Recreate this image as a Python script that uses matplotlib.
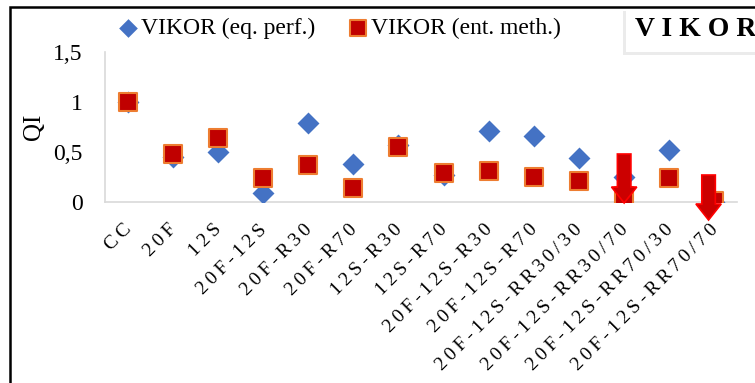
import numpy as np
import matplotlib.pyplot as plt
import matplotlib.transforms as mtransforms
from matplotlib.patches import Rectangle
from matplotlib.ticker import FuncFormatter

# Escenarios y valores QI de ambos métodos
escenarios = ['CC', '20F', '12S', '20F-12S', '20F-R30', '20F-R70', '12S-R30',
              '12S-R70', '20F-12S-R30', '20F-12S-R70', '20F-12S-RR30/30',
              '20F-12S-RR30/70', '20F-12S-RR70/30', '20F-12S-RR70/70']
qi_eq = [1.0, 0.45, 0.50, 0.09, 0.79, 0.38, 0.57, 0.27, 0.71, 0.66, 0.44, 0.25, 0.52, 0.0]
qi_ent = [1.0, 0.48, 0.64, 0.24, 0.37, 0.14, 0.55, 0.29, 0.31, 0.25, 0.21, 0.06, 0.24, 0.01]

# Flechas que marcan los mejores escenarios (x, y inicial, y final)
flechas_x = [11, 12.87]
flechas_y0 = [0.48, 0.27]
flechas_y1 = [-0.01, -0.18]

plt.rcParams['font.family'] = ['Liberation Serif', 'DejaVu Serif']
fs = 17

fig = plt.figure(figsize=(7.55, 3.83), dpi=100)
ax = fig.add_axes([105/755, 1-202/383, 632/755, 150/383])

x = np.arange(len(escenarios))
ax.scatter(x, qi_eq, marker='D', s=125, color='#4472C4', linewidths=0,
           label='VIKOR (eq. perf.)', zorder=3)
ax.scatter(x, qi_ent, marker='s', s=170, color='#C00000', edgecolors='#ED7D31',
           linewidths=1.5, label='VIKOR (ent. meth.)', zorder=4)

for xf, y0, y1 in zip(flechas_x, flechas_y0, flechas_y1):
    ax.arrow(xf, y0, 0, y1 - y0, width=0.3, head_width=0.56, head_length=0.16,
             length_includes_head=True, facecolor='#CC0000', edgecolor='#FF0000',
             linewidth=1.2, clip_on=False, zorder=6)

ax.set_xlim(-0.5, len(escenarios) - 0.5)
ax.set_ylim(0, 1.5)
ax.set_yticks([0, 0.5, 1, 1.5])
ax.yaxis.set_major_formatter(FuncFormatter(lambda v, p: ('%g' % v).replace('.', ',')))

# etiquetas del eje x giradas, con un poco de espacio entre letras
ax.set_xticks(x)
ax.set_xticklabels([])
desplaz = mtransforms.ScaledTranslation(1/100, -25/100, fig.dpi_scale_trans)
for i, e in enumerate(escenarios):
    ax.text(i, 0, '\u2009'.join(e), rotation=45, ha='right', va='center',
            rotation_mode='anchor', fontsize=14,
            transform=ax.get_xaxis_transform() + desplaz)

ax.tick_params(axis='both', length=0, labelsize=fs)
ax.tick_params(axis='y', pad=16)
ax.set_ylabel('QI', fontsize=fs + 1, labelpad=6)

for s in ['top', 'right']:
    ax.spines[s].set_visible(False)
for s in ['left', 'bottom']:
    ax.spines[s].set_color('#D9D9D9')
    ax.spines[s].set_linewidth(1.2)

fig.legend(loc='center', bbox_to_anchor=(340/755, 1-28/383), ncol=2, frameon=False,
           fontsize=fs, handlelength=0.8, handletextpad=0.15, columnspacing=1.4,
           markerscale=0.85)

# Marco exterior del gráfico
fig.patches.append(Rectangle((10/755, -0.1), 1.2, 1 - 7/383 + 0.1, transform=fig.transFigure,
                             fill=False, edgecolor='black', linewidth=1.8, clip_on=False))

# Recuadro del título con sombra
fig.patches.append(Rectangle((623/755, 1-55/383), 0.3, 44/383, transform=fig.transFigure,
                             facecolor='#D8D8D8', edgecolor='none', alpha=0.5, zorder=5))
fig.patches.append(Rectangle((626/755, 1-52/383), 0.3, 42/383, transform=fig.transFigure,
                             facecolor='white', edgecolor='none', zorder=6))
fig.text(635/755, 1-30/383, 'V I K O R', fontsize=20, fontweight='bold',
         ha='left', va='center', zorder=7)

fig.savefig('out.png', dpi=100)
